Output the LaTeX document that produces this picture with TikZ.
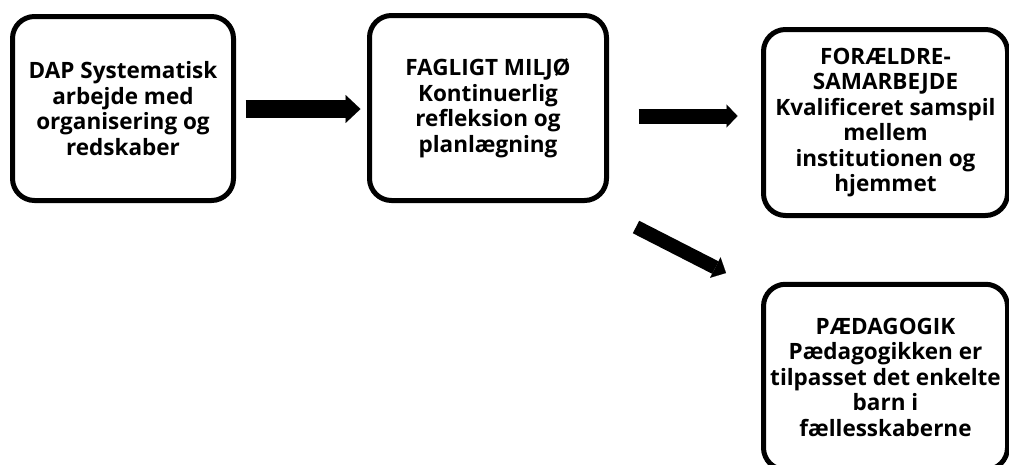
\documentclass[tikz,border=0pt]{standalone}
\usepackage{fontspec}
\setmainfont{Open Sans}
\usetikzlibrary{arrows.meta}
\begin{document}
\begin{tikzpicture}[x=1pt,y=-1pt,
  box/.style={draw=black, line width=5pt, rounded corners=22pt, outer sep=0pt,
    inner sep=0pt, align=center, font=\fontsize{22.5}{25.5}\selectfont\bfseries},
  flow/.style={draw=black, line cap=butt}]
\useasboundingbox (0,0) rectangle (1009,464);
\node[box, minimum width=221pt, minimum height=184pt] (b1) at (123,108.5)
  {DAP Systematisk\\arbejde med\\organisering og\\redskaber};
\node[box, minimum width=237pt, minimum height=185pt] (b2) at (488,108)
  {FAGLIGT MILJØ\\Kontinuerlig\\refleksion og\\planlægning};
\node[box, minimum width=244pt, minimum height=186pt] (b3) at (885.5,122.5)
  {FORÆLDRE-\\SAMARBEJDE\\Kvalificeret samspil\\mellem\\institutionen og\\hjemmet};
\node[box, minimum width=244pt, minimum height=185.5pt] (b4) at (885.5,377)
  {PÆDAGOGIK\\Pædagogikken er\\tilpasset det enkelte\\barn i\\fællesskaberne};
\coordinate (y1) at (0,109);
\coordinate (y2) at (0,116);
\draw[flow, line width=18pt, -{Triangle[line width=0.1pt, length=15pt, width=28pt]},
  shorten <=12pt, shorten >=9pt] (b1.east |- y1) -- (b2.west |- y1);
\draw[flow, line width=15pt, -{Triangle[line width=0.1pt, length=11pt, width=23pt]},
  shorten <=32pt, shorten >=26pt] (b2.east |- y2) -- (b3.west |- y2);
\coordinate (a3s) at (636,227);
\coordinate (a3e) at (726,273);
\draw[flow, line width=14pt, -{Triangle[line width=0.1pt, length=12pt, width=23pt]}]
  (a3s) -- (a3e);
\end{tikzpicture}
\end{document}
